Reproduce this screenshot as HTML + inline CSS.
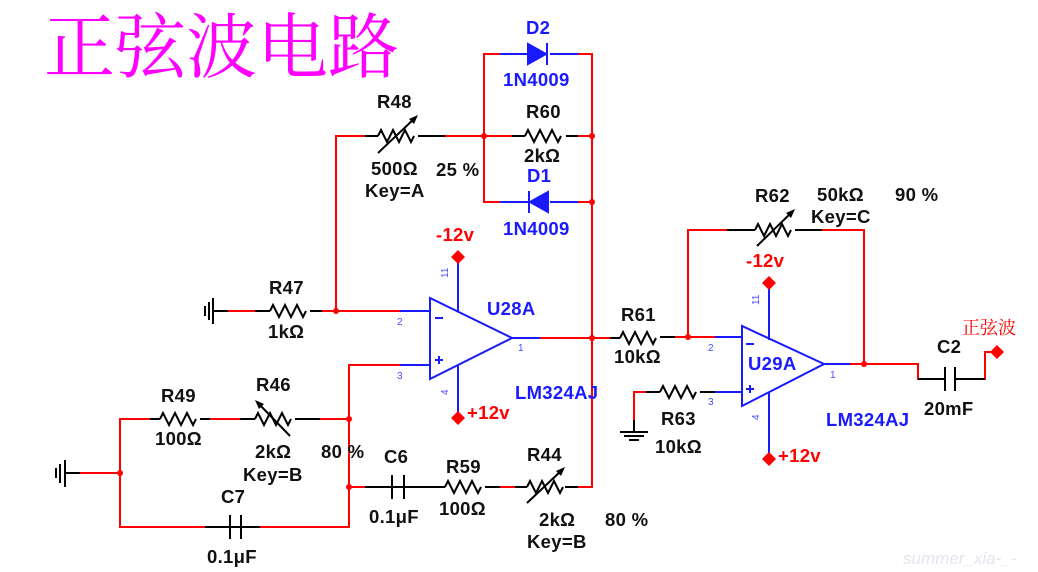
<!DOCTYPE html>
<html><head><meta charset="utf-8"><style>
html,body{margin:0;padding:0;background:#fff;}
svg{display:block}
.t{font-family:"Liberation Sans",sans-serif;font-weight:bold;font-size:18.5px;letter-spacing:0.3px;fill:#111}
.b{fill:#1a1aff}
.r{fill:#ff0000}
.p{font-family:"Liberation Sans",sans-serif;font-size:10px;fill:#4a4aff}
</style></head><body>
<svg width="1038" height="572" viewBox="0 0 1038 572" xmlns="http://www.w3.org/2000/svg">
<defs>
<path id="res" d="M0 0 l3 -6 l6 12 l6 -12 l6 12 l6 -12 l6 12 l3 -6" fill="none" stroke="#000" stroke-width="2"/>
</defs>
<text x="44" y="72" font-family="'Noto Serif CJK SC',serif" font-size="71" fill="#ff00ff">正弦波电路</text>

<g fill="none" stroke="#ff0000" stroke-width="2">
<polyline points="336,311 336,136 378,136"/>
<line x1="418" y1="136" x2="525" y2="136"/>
<line x1="566" y1="136" x2="592" y2="136"/>
<polyline points="484,136 484,54 530,54"/>
<polyline points="484,136 484,202 530,202"/>
<polyline points="550,54 592,54 592,487 565,487"/>
<line x1="550" y1="202" x2="592" y2="202"/>
<line x1="215" y1="311" x2="270" y2="311"/>
<line x1="310" y1="311" x2="400" y2="311"/>
<line x1="528" y1="338" x2="620" y2="338"/>
<polyline points="400,365 349,365 349,527 250,527"/>
<polyline points="210,527 120,527 120,419 160,419"/>
<line x1="200" y1="419" x2="255" y2="419"/>
<line x1="295" y1="419" x2="349" y2="419"/>
<line x1="80" y1="473" x2="120" y2="473"/>
<line x1="349" y1="487" x2="392" y2="487"/>
<line x1="404" y1="487" x2="445" y2="487"/>
<line x1="485" y1="487" x2="527" y2="487"/>
<line x1="660" y1="337" x2="715" y2="337"/>
<polyline points="688,337 688,230 755,230"/>
<polyline points="795,230 864,230 864,364 918,364 918,379 945,379"/>
<line x1="840" y1="364" x2="864" y2="364"/>
<polyline points="955,379 985,379 985,352 997,352"/>
<polyline points="634,432 634,392 660,392"/>
<line x1="700" y1="392" x2="715" y2="392"/>
</g>
<g stroke="#000" stroke-width="2" fill="none">
<line x1="365" y1="136" x2="378" y2="136"/><line x1="418" y1="136" x2="445" y2="136"/>
<line x1="512" y1="136" x2="525" y2="136"/><line x1="566" y1="136" x2="578" y2="136"/>
<line x1="255" y1="311" x2="270" y2="311"/><line x1="310" y1="311" x2="322" y2="311"/>
<line x1="65" y1="473" x2="80" y2="473"/><line x1="213" y1="311" x2="228" y2="311"/>
<line x1="150" y1="419" x2="160" y2="419"/><line x1="200" y1="419" x2="210" y2="419"/>
<line x1="240" y1="419" x2="255" y2="419"/><line x1="295" y1="419" x2="320" y2="419"/>
<line x1="205" y1="527" x2="260" y2="527"/>
<line x1="365" y1="487" x2="445" y2="487"/>
<line x1="485" y1="487" x2="500" y2="487"/><line x1="515" y1="487" x2="527" y2="487"/>
<line x1="565" y1="487" x2="578" y2="487"/>
<line x1="610" y1="338" x2="620" y2="338"/><line x1="660" y1="337" x2="675" y2="337"/>
<line x1="727" y1="230" x2="755" y2="230"/><line x1="795" y1="230" x2="822" y2="230"/>
<line x1="918" y1="379" x2="945" y2="379"/><line x1="955" y1="379" x2="985" y2="379"/>
<line x1="646" y1="392" x2="660" y2="392"/><line x1="700" y1="392" x2="715" y2="392"/>
<line x1="392" y1="475" x2="392" y2="499"/><line x1="404" y1="475" x2="404" y2="499"/>
<line x1="230" y1="515" x2="230" y2="539"/><line x1="241" y1="515" x2="241" y2="539"/>
<line x1="945" y1="367" x2="945" y2="391"/><line x1="955" y1="367" x2="955" y2="391"/>
<line x1="65" y1="460" x2="65" y2="487"/><line x1="60" y1="464" x2="60" y2="483"/><line x1="56" y1="468" x2="56" y2="478"/>
<line x1="213" y1="298" x2="213" y2="324"/><line x1="209" y1="302" x2="209" y2="320"/><line x1="205" y1="306" x2="205" y2="316"/>
<line x1="634" y1="420" x2="634" y2="432"/>
<line x1="620" y1="432" x2="648" y2="432"/><line x1="624" y1="436" x2="644" y2="436"/><line x1="629" y1="440" x2="639" y2="440"/>
<line x1="378" y1="153" x2="415" y2="118"/><line x1="258" y1="403" x2="290" y2="436"/>
<line x1="527" y1="503" x2="562" y2="470"/><line x1="757" y1="246" x2="792" y2="212"/>
</g>
<g fill="#000">
<polygon points="418,115 409,119 414,124"/><polygon points="255,400 264,404 259,409"/>
<polygon points="565,467 556,471 561,476"/><polygon points="795,209 786,213 791,218"/>
</g>
<use href="#res" x="378" y="136"/><use href="#res" x="525" y="136"/>
<use href="#res" x="270" y="311"/><use href="#res" x="160" y="419"/>
<use href="#res" x="255" y="419"/><use href="#res" x="445" y="487"/>
<use href="#res" x="527" y="487"/><use href="#res" x="620" y="338"/>
<use href="#res" x="755" y="230"/><use href="#res" x="660" y="392"/>

<g stroke="#1a1aff" stroke-width="2" fill="#1a1aff">
<line x1="500" y1="54" x2="530" y2="54"/><line x1="550" y1="54" x2="578" y2="54"/>
<polygon points="528,44 528,64 546,54"/><line x1="547" y1="43" x2="547" y2="65"/>
<line x1="500" y1="202" x2="530" y2="202"/><line x1="550" y1="202" x2="578" y2="202"/>
<polygon points="548,192 548,212 530,202"/><line x1="529" y1="191" x2="529" y2="213"/>
</g>
<g stroke="#1a1aff" stroke-width="2" fill="none">
<polygon points="430,298 430,379 512,338"/>
<line x1="400" y1="311" x2="430" y2="311"/><line x1="400" y1="365" x2="430" y2="365"/>
<line x1="512" y1="338" x2="540" y2="338"/>
<line x1="458" y1="262" x2="458" y2="312"/><line x1="458" y1="366" x2="458" y2="413"/>
<line x1="435" y1="318" x2="443" y2="318"/><line x1="435" y1="360" x2="443" y2="360"/><line x1="439" y1="356" x2="439" y2="364"/>
<polygon points="742,326 742,406 824,364"/>
<line x1="715" y1="337" x2="742" y2="337"/><line x1="715" y1="392" x2="742" y2="392"/>
<line x1="824" y1="364" x2="850" y2="364"/>
<line x1="769" y1="288" x2="769" y2="340"/><line x1="769" y1="393" x2="769" y2="454"/>
<line x1="746" y1="344" x2="754" y2="344"/><line x1="746" y1="389" x2="754" y2="389"/><line x1="750" y1="385" x2="750" y2="393"/>
</g>
<g fill="#ff0000">
<polygon points="458,250 465,257 458,264 451,257"/><polygon points="458,411 465,418 458,425 451,418"/>
<polygon points="769,276 776,283 769,290 762,283"/><polygon points="769,452 776,459 769,466 762,459"/>
<polygon points="997,345 1004,352 997,359 990,352"/>
<circle cx="484" cy="136" r="3"/><circle cx="592" cy="136" r="3"/><circle cx="592" cy="202" r="3"/>
<circle cx="336" cy="311" r="3"/><circle cx="592" cy="338" r="3"/><circle cx="349" cy="419" r="3"/>
<circle cx="349" cy="487" r="3"/><circle cx="120" cy="473" r="3"/><circle cx="688" cy="337" r="3"/>
<circle cx="864" cy="364" r="3"/>
</g>
<text class="t b" x="526" y="34">D2</text>
<text class="t b" x="503" y="86">1N4009</text>
<text class="t" x="377" y="108">R48</text>
<text class="t" x="526" y="118">R60</text>
<text class="t" x="371" y="175">500Ω</text>
<text class="t" x="436" y="176">25 %</text>
<text class="t" x="524" y="162">2kΩ</text>
<text class="t" x="365" y="197">Key=A</text>
<text class="t b" x="527" y="182">D1</text>
<text class="t b" x="503" y="235">1N4009</text>
<text class="t r" x="436" y="241">-12v</text>
<text class="t" x="269" y="294">R47</text>
<text class="t" x="268" y="338">1kΩ</text>
<text class="t b" x="487" y="315">U28A</text>
<text class="t b" x="515" y="399">LM324AJ</text>
<text class="t r" x="467" y="419">+12v</text>
<text class="t" x="161" y="402">R49</text>
<text class="t" x="155" y="445">100Ω</text>
<text class="t" x="256" y="391">R46</text>
<text class="t" x="255" y="458">2kΩ</text>
<text class="t" x="243" y="481">Key=B</text>
<text class="t" x="321" y="458">80 %</text>
<text class="t" x="221" y="503">C7</text>
<text class="t" x="207" y="563">0.1μF</text>
<text class="t" x="384" y="463">C6</text>
<text class="t" x="369" y="523">0.1μF</text>
<text class="t" x="446" y="473">R59</text>
<text class="t" x="439" y="515">100Ω</text>
<text class="t" x="527" y="461">R44</text>
<text class="t" x="539" y="526">2kΩ</text>
<text class="t" x="527" y="548">Key=B</text>
<text class="t" x="605" y="526">80 %</text>
<text class="t" x="621" y="321">R61</text>
<text class="t" x="614" y="363">10kΩ</text>
<text class="t" x="755" y="202">R62</text>
<text class="t" x="817" y="201">50kΩ</text>
<text class="t" x="895" y="201">90 %</text>
<text class="t" x="811" y="223">Key=C</text>
<text class="t r" x="746" y="267">-12v</text>
<text class="t b" x="748" y="370">U29A</text>
<text class="t b" x="826" y="426">LM324AJ</text>
<text class="t r" x="778" y="462">+12v</text>
<text class="t" x="661" y="425">R63</text>
<text class="t" x="655" y="453">10kΩ</text>
<text class="t" x="937" y="353">C2</text>
<text class="t" x="924" y="415">20mF</text>
<text x="962" y="334" font-family="'Noto Serif CJK SC',serif" font-size="18" fill="#ff0000">正弦波</text>
<text class="p" x="397" y="325">2</text><text class="p" x="397" y="379">3</text>
<text class="p" x="518" y="351">1</text>
<text class="p" x="708" y="351">2</text><text class="p" x="708" y="405">3</text>
<text class="p" x="830" y="378">1</text>
<text class="p" transform="translate(448,278) rotate(-90)">11</text>
<text class="p" transform="translate(448,395) rotate(-90)">4</text>
<text class="p" transform="translate(759,305) rotate(-90)">11</text>
<text class="p" transform="translate(759,420) rotate(-90)">4</text>
<text x="903" y="564" font-family="'Liberation Sans',sans-serif" font-style="italic" font-size="17" fill="#e4e4f2">summer_xia-_-</text>
</svg>
</body></html>
